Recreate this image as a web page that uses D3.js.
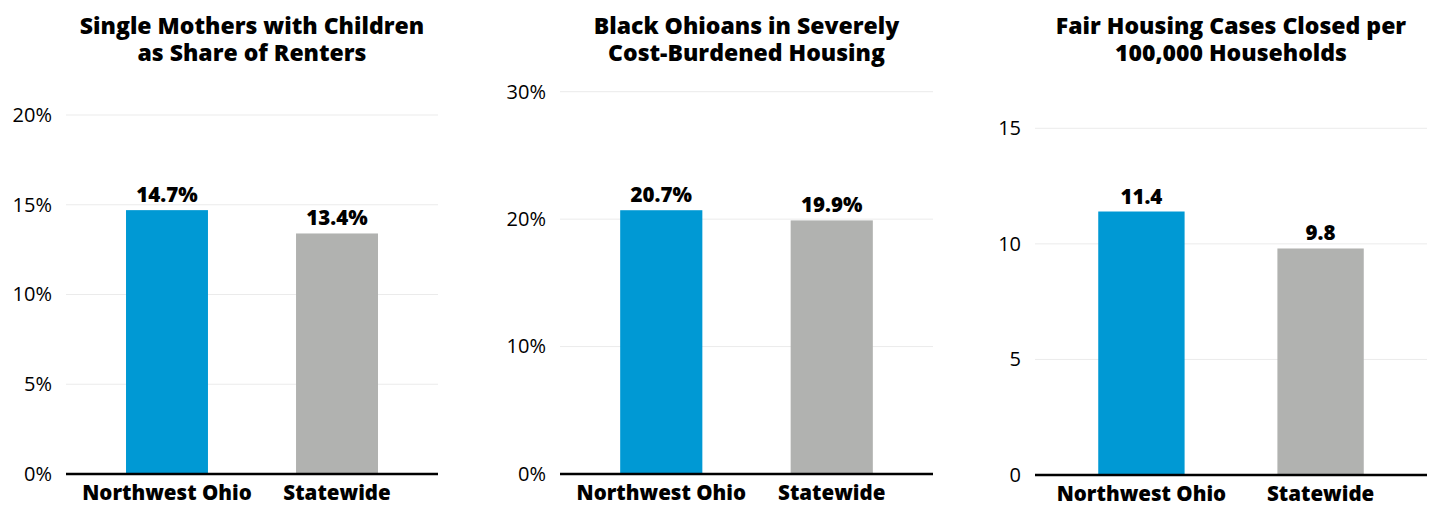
<!DOCTYPE html>
<html><head><meta charset="utf-8">
<script src="https://cdn.jsdelivr.net/npm/d3@7"></script>
<style>
body{margin:0;background:#fff;}
svg text{font-family:"Open Sans",sans-serif;fill:#000;}
</style></head><body>
<svg id="c" width="1435" height="506"></svg>
<script>
const categories = ["Northwest Ohio", "Statewide"];
const titles = [
  ["Single Mothers with Children", "as Share of Renters"],
  ["Black Ohioans in Severely", "Cost-Burdened Housing"],
  ["Fair Housing Cases Closed per", "100,000 Households"]
];
const valuesSingleMothers = [14.7, 13.4];
const valuesCostBurdened = [20.7, 19.9];
const valuesFairHousing = [11.4, 9.8];
const ticksSingleMothers = [0, 5, 10, 15, 20];
const ticksCostBurdened = [0, 10, 20, 30];
const ticksFairHousing = [0, 5, 10, 15];
const labelFormats = [v => v.toFixed(1) + "%", v => v.toFixed(1) + "%", v => v.toFixed(1)];
const tickFormats = [v => v + "%", v => v + "%", v => String(v)];
const colors = ["#0099d4", "#b1b2b0"];

const panels = [
  {values: valuesSingleMothers, ticks: ticksSingleMothers, x0: 66, x1: 438, yb: 474, yt: 115},
  {values: valuesCostBurdened, ticks: ticksCostBurdened, x0: 560, x1: 933, yb: 474, yt: 91.7},
  {values: valuesFairHousing, ticks: ticksFairHousing, x0: 1035, x1: 1427, yb: 475, yt: 128.3}
];

const FONT = "'Open Sans', sans-serif";
const svg = d3.select("#c");
panels.forEach((p, i) => {
  const g = svg.append("g");
  const x = d3.scaleBand().domain(categories).range([p.x0, p.x1]).paddingInner(0.518).paddingOuter(0.353);
  const y = d3.scaleLinear().domain([0, d3.max(p.ticks)]).range([p.yb, p.yt]);

  g.selectAll("line.grid").data(p.ticks.filter(t => t > 0)).join("line")
    .attr("x1", p.x0).attr("x2", p.x1)
    .attr("y1", d => y(d)).attr("y2", d => y(d))
    .attr("stroke", "#ebebeb").attr("stroke-width", 1);

  const ya = d3.axisLeft(y).tickValues(p.ticks).tickFormat(tickFormats[i]).tickSize(0).tickPadding(0);
  const yg = g.append("g").attr("transform", `translate(${p.x0 - 14},0)`).call(ya);
  yg.select(".domain").remove();
  yg.selectAll("text").attr("font-size", 20).attr("fill", "#1a1a1a").style("font-family", FONT);

  g.selectAll("rect").data(p.values).join("rect")
    .attr("x", (d, j) => x(categories[j]))
    .attr("width", x.bandwidth())
    .attr("y", d => y(d))
    .attr("height", d => y(0) - y(d))
    .attr("fill", (d, j) => colors[j]);

  g.selectAll("text.val").data(p.values).join("text").attr("class", "val")
    .attr("x", (d, j) => x(categories[j]) + x.bandwidth() / 2)
    .attr("y", d => y(d) - 8)
    .attr("text-anchor", "middle").attr("font-size", 20.5).attr("font-weight", 800)
    .text(labelFormats[i]);

  g.append("line").attr("x1", p.x0).attr("x2", p.x1).attr("y1", y(0)).attr("y2", y(0))
    .attr("stroke", "#000").attr("stroke-width", 2.5);

  const xa = d3.axisBottom(x).tickSize(0).tickPadding(0);
  const xg = g.append("g").attr("transform", `translate(0,${y(0)})`).call(xa);
  xg.select(".domain").remove();
  xg.selectAll("text").attr("font-size", 20.5).attr("font-weight", 800).attr("fill", "#000")
    .attr("dy", null).attr("y", 26).style("font-family", FONT);

  const t = g.append("text").attr("text-anchor", "middle").attr("font-size", 23).attr("font-weight", 800);
  titles[i].forEach((line, k) => {
    t.append("tspan").attr("x", (p.x0 + p.x1) / 2).attr("y", 34 + k * 27).text(line);
  });
});
</script>
</body></html>
